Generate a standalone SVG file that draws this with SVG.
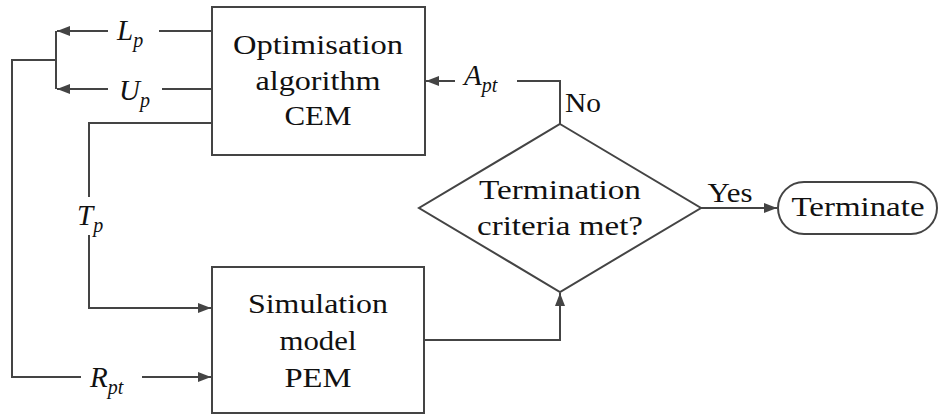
<svg xmlns="http://www.w3.org/2000/svg" width="939" height="414" viewBox="0 0 939 414">
  <style>
    .box { fill: #fff; stroke: #444; stroke-width: 2; }
    .wire { fill: none; stroke: #444; stroke-width: 2; }
    .ntext { font-family: "Liberation Serif", serif; font-size: 28px; fill: #111; text-anchor: middle; }
    .math { font-family: "Liberation Serif", serif; font-size: 29px; font-style: italic; fill: #111; }
    .sub { font-size: 20px; }
  </style>
  <defs>
    <marker id="arrow" markerUnits="userSpaceOnUse" markerWidth="14" markerHeight="12" refX="13" refY="6" orient="auto">
      <path d="M0,1 L13,6 L0,11 z" fill="#444"/>
    </marker>
  </defs>

  <!-- connectors -->
  <g id="connectors">
    <!-- L_p and U_p outputs -->
    <path class="wire" d="M212,31 H159"/>
    <path class="wire" d="M108,31 H57" marker-end="url(#arrow)"/>
    <path class="wire" d="M212,89 H162"/>
    <path class="wire" d="M108,89 H57" marker-end="url(#arrow)"/>
    <path class="wire" d="M56,31 V89 M56,60 H12 V377 H81"/>
    <path class="wire" d="M142,377 H211" marker-end="url(#arrow)"/>
    <!-- T_p to simulation model -->
    <path class="wire" d="M212,123 H89 V197"/>
    <path class="wire" d="M89,235 V308 H211" marker-end="url(#arrow)"/>
    <!-- simulation model to decision -->
    <path class="wire" d="M424,340 H560 V293" marker-end="url(#arrow)"/>
    <!-- No branch back to optimiser -->
    <path class="wire" d="M560,124 V81 H517"/>
    <path class="wire" d="M455,81 H426" marker-end="url(#arrow)"/>
    <!-- Yes branch -->
    <path class="wire" d="M701,208 H777" marker-end="url(#arrow)"/>
  </g>

  <!-- connector labels -->
  <g id="labels">
    <text class="math" x="117" y="40">L<tspan class="sub" dy="7">p</tspan></text>
    <text class="math" x="119" y="100">U<tspan class="sub" dy="7">p</tspan></text>
    <text class="math" x="77" y="225">T<tspan class="sub" dy="7">p</tspan></text>
    <text class="math" x="90" y="387">R<tspan class="sub" dy="7">pt</tspan></text>
    <text class="math" x="464" y="85">A<tspan class="sub" dy="7">pt</tspan></text>
    <text class="ntext" x="583" y="112" textLength="36" lengthAdjust="spacingAndGlyphs">No</text>
    <text class="ntext" x="730" y="202" textLength="45" lengthAdjust="spacingAndGlyphs">Yes</text>
  </g>

  <g id="optimiser">
    <rect class="box" x="212" y="7" width="213" height="148"/>
    <text class="ntext" x="318" y="54" textLength="170" lengthAdjust="spacingAndGlyphs">Optimisation</text>
    <text class="ntext" x="318" y="90" textLength="125" lengthAdjust="spacingAndGlyphs">algorithm</text>
    <text class="ntext" x="318" y="125" textLength="67" lengthAdjust="spacingAndGlyphs">CEM</text>
  </g>

  <g id="simulation">
    <rect class="box" x="212" y="267" width="212" height="146"/>
    <text class="ntext" x="318" y="313" textLength="140" lengthAdjust="spacingAndGlyphs">Simulation</text>
    <text class="ntext" x="318" y="350" textLength="77" lengthAdjust="spacingAndGlyphs">model</text>
    <text class="ntext" x="318" y="387" textLength="67" lengthAdjust="spacingAndGlyphs">PEM</text>
  </g>

  <g id="decision">
    <path class="box" d="M560,124 L701,208 L560,292 L419,208 z"/>
    <text class="ntext" x="560" y="199" textLength="162" lengthAdjust="spacingAndGlyphs">Termination</text>
    <text class="ntext" x="560" y="235" textLength="166" lengthAdjust="spacingAndGlyphs">criteria met?</text>
  </g>

  <g id="terminate">
    <rect class="box" x="778" y="182" width="159" height="52" rx="26" ry="26"/>
    <text class="ntext" x="858" y="216" textLength="133" lengthAdjust="spacingAndGlyphs">Terminate</text>
  </g>
</svg>
